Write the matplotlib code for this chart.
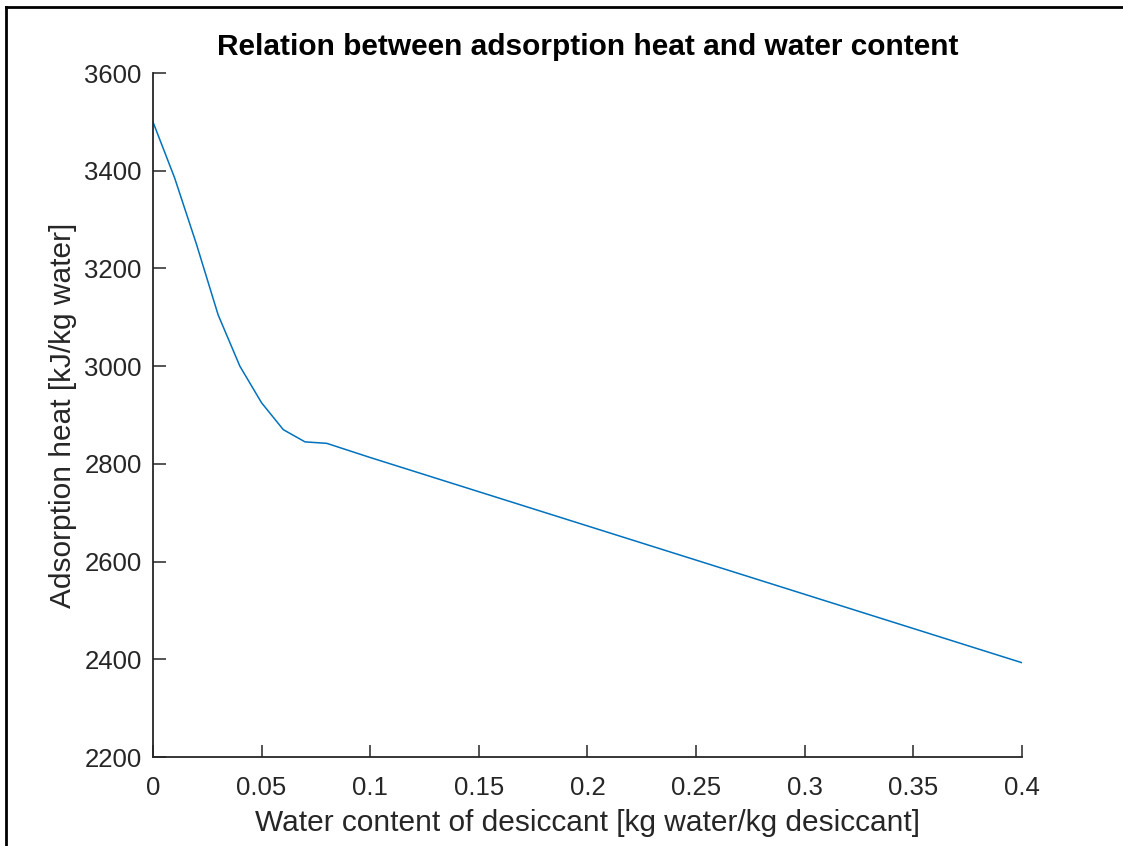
import matplotlib
matplotlib.use('Agg')
import matplotlib.pyplot as plt
from matplotlib.lines import Line2D

plt.rcParams['font.family'] = ['Liberation Sans', 'DejaVu Sans']

# water content [kg water/kg desiccant] and adsorption heat [kJ/kg water]
water_content = [0, 0.01, 0.02, 0.03, 0.04, 0.05, 0.06, 0.07, 0.08,
                 0.1, 0.15, 0.2, 0.25, 0.3, 0.35, 0.4]
ads_heat = [3500, 3385, 3250, 3105, 3000, 2925, 2870, 2845, 2842,
            2813, 2743, 2673, 2603, 2533, 2463, 2393]

x_ticks = [0, 0.05, 0.1, 0.15, 0.2, 0.25, 0.3, 0.35, 0.4]
x_tick_labels = ['0', '0.05', '0.1', '0.15', '0.2', '0.25', '0.3', '0.35', '0.4']
y_ticks = [2200, 2400, 2600, 2800, 3000, 3200, 3400, 3600]

txt = '#262626'

fig = plt.figure(figsize=(11.23, 8.46), dpi=100)
fig.patch.set_facecolor('white')
ax = fig.add_axes([0.1362, 0.1052, 0.9100 - 0.1362, 0.9137 - 0.1052])

ax.plot(water_content, ads_heat, color='#0072BD', lw=1.1)

ax.set_xlim(0, 0.4)
ax.set_ylim(2200, 3600)
ax.set_xticks(x_ticks)
ax.set_xticklabels(x_tick_labels)
ax.set_yticks(y_ticks)

for side in ['top', 'right']:
    ax.spines[side].set_visible(False)
for side in ['left', 'bottom']:
    ax.spines[side].set_color(txt)
    ax.spines[side].set_linewidth(1.3)

ax.tick_params(direction='in', length=9, width=1.1, colors=txt, labelsize=18.5)
ax.tick_params(axis='x', pad=14)
ax.tick_params(axis='y', pad=8)

ax.set_title('Relation between adsorption heat and water content',
             fontsize=21.5, fontweight='bold', color='black', pad=13)
ax.set_xlabel('Water content of desiccant [kg water/kg desiccant]',
              fontsize=21.5, color=txt, labelpad=6)
ax.set_ylabel('Adsorption heat [kJ/kg water]', fontsize=21.5, color=txt, labelpad=5)

# outer frame (top and left edges of the screenshot border)
fig.add_artist(Line2D([6 / 1123, 1.0], [1 - 7 / 846, 1 - 7 / 846],
                      transform=fig.transFigure, color='black', lw=2))
fig.add_artist(Line2D([6 / 1123, 6 / 1123], [0.0, 1 - 7 / 846],
                      transform=fig.transFigure, color='black', lw=2))

fig.savefig('out.png', dpi=100)
